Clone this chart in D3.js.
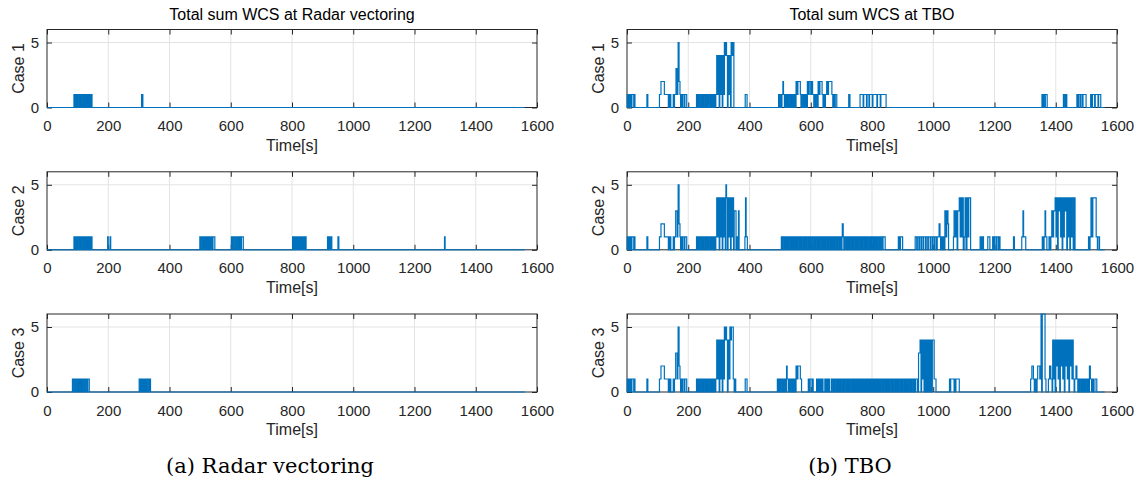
<!DOCTYPE html>
<html>
<head>
<meta charset="utf-8">
<script src="https://cdn.jsdelivr.net/npm/d3@7"></script>
<style>
  body { margin: 0; background: #fff; }
  svg { display: block; }
  text { fill: #262626; }
</style>
</head>
<body>
<svg id="chart" width="1138" height="485"></svg>
<script>
// ---- labels / ticks ----
const xTickValues = [0, 200, 400, 600, 800, 1000, 1200, 1400, 1600];
const yTickValues = [0, 5];
const columnTitles = ['Total sum WCS at Radar vectoring', 'Total sum WCS at TBO'];
const columnCaptions = ['(a) Radar vectoring', '(b) TBO'];
const caseLabels = ['Case 1', 'Case 2', 'Case 3'];
const xLabel = 'Time[s]';

// ---- series: step change points [time (s), total WCS] ----
const radarCase1 = [[0,0],[88,1],[90,0],[91,1],[95,0],[96,1],[99,0],[100,1],[104,0],[106,1],[108,0],[109,1],[112,0],[113,1],[117,0],[119,1],[121,0],[122,1],[126,0],[127,1],[130,0],[131,1],[135,0],[136,1],[139,0],[140,1],[143,0],[144,1],[147,0],[309,1],[313,0],[1560,0]];

const radarCase2 = [[0,0],[88,1],[90,0],[91,1],[95,0],[96,1],[99,0],[100,1],[104,0],[105,1],[108,0],[109,1],[112,0],[113,1],[117,0],[118,1],[121,0],[122,1],[126,0],[127,1],[130,0],[131,1],[135,0],[136,1],[139,0],[141,1],[143,0],[145,1],[147,0],
  [198,1],[200,0],[206,1],[208,0],
  [499,1],[503,0],[507,1],[510,0],[512,1],[516,0],[517,1],[521,0],[522,1],[526,0],[527,1],[531,0],[532,1],[536,0],[537,1],[541,0],[542,1],[548,0],
  [602,1],[606,0],[610,1],[614,0],[615,1],[619,0],[620,1],[624,0],[625,1],[629,0],[630,1],[634,0],[635,1],[641,0],
  [802,1],[804,0],[808,1],[810,0],[812,1],[816,0],[817,1],[821,0],[822,1],[826,0],[827,1],[831,0],[832,1],[836,0],[837,1],[841,0],[842,1],[846,0],
  [916,1],[920,0],[922,1],[926,0],[927,1],[930,0],[950,1],[953,0],[1298,1],[1300,0],[1560,0]];

const radarCase3 = [[0,0],[83,1],[87,0],[88,1],[92,0],[93,1],[97,0],[98,1],[100,0],[102,1],[106,0],[107,1],[111,0],[112,1],[116,0],[118,1],[122,0],[123,1],[127,0],[128,1],[132,0],[133,1],[138,0],
  [301,1],[305,0],[306,1],[309,0],[311,1],[315,0],[316,1],[320,0],[321,1],[324,0],[326,1],[330,0],[334,1],[338,0],[1560,0]];

const tboCase1 = [[0,0],[1,1],[3,0],[5,1],[9,0],[11,1],[14,0],[16,1],[22,0],[24,1],[26,0],
  [65,1],[68,0],
  [106,1],[111,2],[122,1],[135,0],[137,1],[139,0],[141,1],[143,0],[151,1],[153,0],[155,1],[160,3],[164,1],[166,3],[167,5],[170,2],[173,1],[175,0],[177,1],[180,0],[182,1],[187,0],[189,1],[195,0],
  [227,1],[229,0],[232,1],[236,0],[238,1],[242,0],[244,1],[248,0],[250,1],[254,0],[256,1],[260,0],[262,1],[266,0],[268,1],[272,0],[274,1],[278,0],[280,1],[283,0],[285,1],[288,0],[290,1],
  [293,4],[296,1],[298,4],[301,0],[303,4],[306,1],[308,4],[311,0],[313,4],[316,1],[318,5],[321,4],[323,5],[325,4],[328,0],[330,4],[333,1],[335,4],[338,0],[340,5],[343,4],[345,5],[349,0],
  [386,1],[392,0],
  [495,1],[498,0],[500,1],[504,0],[506,1],[509,2],[511,1],[514,0],[516,1],[520,0],[522,1],[526,0],[528,1],[532,0],[534,1],[538,0],[540,1],[544,0],[546,1],[550,0],[552,2],[556,1],[558,2],[566,1],[568,0],[570,1],[574,0],[576,1],[580,0],[582,1],[586,0],[589,2],[593,1],[595,2],[600,1],[602,2],[606,1],[610,0],[612,1],[616,0],[618,1],[622,0],[624,2],[628,1],[630,2],[637,1],[640,0],[642,1],[646,0],[648,1],[652,2],[656,1],[658,2],[669,1],[672,0],[674,1],[678,0],[680,1],[685,0],
  [724,1],[728,0],
  [761,1],[771,0],[773,1],[782,0],[784,1],[790,0],[792,1],[801,0],[803,1],[816,0],[818,1],[827,0],[829,1],[846,0],
  [1355,1],[1358,0],[1360,1],[1364,0],[1366,1],[1372,0],
  [1425,1],[1428,0],[1432,1],[1436,0],
  [1469,1],[1473,0],[1475,1],[1480,0],[1482,1],[1487,0],[1489,1],[1499,0],
  [1514,1],[1518,0],[1520,1],[1527,0],[1529,1],[1538,0],[1540,1],[1547,0],
  [1560,0]];

const tboCase2 = [[0,0],[1,1],[3,0],[5,1],[9,0],[11,1],[14,0],[16,1],[22,0],[24,1],[26,0],
  [65,1],[68,0],
  [106,1],[111,2],[122,1],[135,0],[137,1],[139,0],[141,1],[143,0],[151,1],[153,0],[155,1],[159,3],[164,1],[166,3],[167,5],[170,2],[173,1],[175,0],[177,1],[180,0],[182,1],[187,0],[189,1],[195,0],
  [227,1],[229,0],[232,1],[236,0],[238,1],[242,0],[244,1],[248,0],[250,1],[254,0],[256,1],[260,0],[262,1],[266,0],[268,1],[272,0],[274,1],[278,0],[280,1],[283,0],[285,1],[288,0],[290,1],
  [293,4],[296,1],[298,4],[301,0],[303,4],[306,1],[308,4],[311,0],[313,4],[316,1],[318,4],[321,0],[323,5],[325,4],[328,0],[330,4],[333,1],[335,4],[338,0],[340,4],[343,1],[345,4],[348,0],[350,3],[356,0],[358,1],[360,0],[364,3],[366,0],
  [385,1],[387,4],[389,1],[393,0],
  [504,1],[508,0],[510,1],[514,0],[516,1],[520,0],[522,1],[526,0],[528,1],[532,0],[534,1],[538,0],[540,1],[544,0],[546,1],[550,0],[552,1],[556,0],[558,1],[562,0],[564,1],[568,0],[570,1],[574,0],[576,1],[580,0],[582,1],[586,0],[588,1],[592,0],[594,1],[598,0],[600,1],[604,0],[606,1],[610,0],[612,1],[616,0],[618,1],[622,0],[624,1],[628,0],[630,1],[634,0],[636,1],[640,0],[642,1],[646,0],[648,1],[652,0],[654,1],[658,0],[660,1],[664,0],[666,1],[670,0],[672,1],[676,0],[678,1],[682,0],[684,1],[688,0],[690,1],[694,0],[696,1],[700,0],[702,1],[703,2],[706,1],[708,0],[710,1],[714,0],[716,1],[720,0],[722,1],[726,0],[728,1],[732,0],[734,1],[738,0],[740,1],[744,0],[746,1],[750,0],[752,1],[756,0],[758,1],[762,0],[764,1],[768,0],[770,1],[774,0],[776,1],[780,0],[782,1],[786,0],[788,1],[792,0],[794,1],[798,0],[800,1],[804,0],[806,1],[810,0],[812,1],[816,0],[818,1],[822,0],[824,1],[828,0],[830,1],[834,0],[836,1],[843,0],
  [886,1],[890,0],[893,1],[900,0],
  [941,1],[946,0],[948,1],[953,0],[955,1],[960,0],[962,1],[967,0],[969,1],[975,0],[977,1],[982,0],[984,1],[990,0],[992,1],[997,0],[999,1],[1004,0],[1006,1],[1011,0],[1013,1],[1019,2],[1022,1],[1024,0],[1026,1],[1030,0],[1032,1],[1036,0],[1038,3],[1042,1],[1044,2],[1046,3],[1048,2],[1050,0],
  [1066,1],[1068,3],[1072,1],[1074,3],[1078,0],[1080,3],[1085,4],[1088,1],[1090,4],[1094,1],[1096,4],[1098,0],[1101,1],[1104,4],[1107,0],[1110,4],[1114,1],[1116,4],[1122,0],
  [1153,1],[1157,0],[1160,1],[1164,0],[1178,1],[1185,0],
  [1194,1],[1198,0],[1200,1],[1205,0],[1207,1],[1212,0],[1214,1],[1218,0],
  [1262,1],[1265,0],
  [1289,1],[1293,3],[1295,1],[1302,0],
  [1356,1],[1360,0],[1362,1],[1365,3],[1367,1],[1371,0],
  [1378,1],[1382,0],[1384,1],[1387,3],[1391,1],[1393,3],[1398,4],[1401,1],[1403,4],[1406,0],[1408,4],[1411,3],[1413,4],[1416,1],[1418,4],[1421,0],[1423,4],[1426,1],[1428,4],[1431,3],[1433,4],[1436,0],[1438,4],[1441,1],[1443,4],[1446,0],[1448,4],[1451,1],[1453,4],[1457,0],[1459,4],[1463,0],
  [1507,1],[1510,0],[1512,1],[1515,4],[1519,1],[1521,4],[1532,1],[1536,0],[1538,1],[1543,0],
  [1560,0]];

const tboCase3 = [[0,0],[1,1],[3,0],[5,1],[9,0],[11,1],[14,0],[16,1],[22,0],[24,1],[26,0],
  [65,1],[68,0],
  [106,1],[111,2],[122,1],[135,0],[137,1],[139,0],[141,1],[143,0],[151,1],[153,0],[155,1],[159,3],[164,1],[166,3],[167,5],[170,2],[173,1],[175,0],[177,1],[180,0],[182,1],[187,0],[189,1],[195,0],
  [227,1],[229,0],[232,1],[236,0],[238,1],[242,0],[244,1],[248,0],[250,1],[254,0],[256,1],[260,0],[262,1],[266,0],[268,1],[272,0],[274,1],[278,0],[280,1],[283,0],[285,1],[288,0],[290,1],
  [293,4],[296,1],[298,4],[301,0],[303,4],[306,1],[308,4],[311,0],[313,4],[316,1],[318,5],[321,4],[323,5],[325,4],[328,0],[330,4],[333,1],[336,5],[339,4],[341,5],[347,1],[350,0],[352,1],[355,0],
  [386,1],[392,0],
  [491,1],[495,0],[497,1],[501,0],[503,1],[507,0],[509,1],[513,0],[515,1],[519,0],[521,2],[523,1],[527,0],[529,1],[533,0],[535,1],[539,0],[541,1],[545,0],[547,1],[550,0],[552,2],[556,1],[558,2],[566,1],[570,0],
  [592,1],[596,0],[598,1],[604,0],[606,1],[608,0],[619,1],[623,0],[625,1],[629,0],[631,1],[635,0],[637,1],[640,0],[646,1],[650,0],[652,1],[656,0],[658,1],[662,0],[668,1],[672,0],[674,1],[678,0],[680,1],[684,0],[686,1],[690,0],[692,1],[696,0],[698,1],[702,0],[704,1],[708,0],[710,1],[714,0],[716,1],[720,0],[722,1],[726,0],[728,1],[732,0],[734,1],[738,0],
  [740,1],[743,0],[744,1],[747,0],[748,1],[751,0],[752,1],[755,0],[756,1],[759,0],[760,1],[763,0],[764,1],[767,0],[768,1],[771,0],[772,1],[775,0],[776,1],[779,0],[780,1],[783,0],[784,1],[787,0],[788,1],[791,0],[792,1],[795,0],[796,1],[799,0],[800,1],[803,0],[804,1],[807,0],[808,1],[811,0],[812,1],[815,0],
  [816,1],[820,0],[822,1],[826,0],[828,1],[832,0],[834,1],[838,0],[840,1],[844,0],[846,1],[850,0],[852,1],[856,0],[858,1],[862,0],[864,1],[868,0],[870,1],[874,0],[876,1],[880,0],[882,1],[886,0],[888,1],[892,0],[894,1],[898,0],[900,1],[904,0],[906,1],[910,0],[912,1],[916,0],[918,1],[922,0],[924,1],[928,0],[930,1],[934,0],[936,1],[940,0],[942,1],[948,0],
  [952,3],[957,4],[960,0],[962,4],[965,1],[967,4],[970,0],[972,4],[975,0],[977,4],[980,0],[982,4],[985,0],[987,4],[990,0],[992,4],[995,0],[997,4],[1003,1],[1009,0],
  [1053,1],[1055,0],[1057,1],[1068,0],[1070,1],[1072,0],[1074,1],[1085,0],
  [1318,1],[1322,2],[1327,1],[1330,0],[1333,1],[1337,0],[1339,1],[1341,2],[1348,1],[1352,6],[1354,0],[1356,6],[1365,1],[1368,0],
  [1376,1],[1380,2],[1384,1],[1388,0],[1390,4],[1393,1],[1395,4],[1398,0],[1400,4],[1403,2],[1405,4],[1408,1],[1410,4],[1413,0],[1415,4],[1418,2],[1420,4],[1423,1],[1425,4],[1428,0],[1430,4],[1433,2],[1435,4],[1438,1],[1440,4],[1443,0],[1445,4],[1448,2],[1450,4],[1453,1],[1455,4],[1457,1],
  [1460,0],[1462,1],[1466,2],[1469,1],[1472,0],[1474,1],[1478,0],[1480,1],[1484,0],[1486,1],[1490,0],[1492,1],[1496,0],[1498,1],[1502,0],[1504,1],[1508,0],[1510,2],[1513,1],[1517,0],[1519,1],[1523,0],[1528,1],[1534,0],
  [1560,0]];

const columns = [
  [radarCase1, radarCase2, radarCase3],
  [tboCase1, tboCase2, tboCase3]
];

// ---- layout ----
const colLeft = [47, 627];
const rowTop = [29.5, 171.8, 314];
const plotW = 490;
const plotH = 78;
const axisColor = '#262626';
const gridColor = '#e3e3e3';
const lineColor = '#0072bd';
const sans = '"Liberation Sans", Arial, Helvetica, sans-serif';

const svg = d3.select('#chart');

const x = d3.scaleLinear().domain([0, 1600]).range([0, plotW]);
const y = d3.scaleLinear().domain([0, 6]).range([plotH, 0]);
const fmt = d3.format('d');

const line = d3.line()
    .x((d) => x(d[0]))
    .y((d) => y(d[1]))
    .curve(d3.curveStepAfter);

columns.forEach((col, c) => {
    col.forEach((data, r) => {
        const g = svg.append('g')
            .attr('transform', `translate(${colLeft[c]},${rowTop[r]})`);

        // grid
        g.append('g').selectAll('line')
            .data(xTickValues.slice(1, -1))
            .join('line')
            .attr('x1', (d) => x(d)).attr('x2', (d) => x(d))
            .attr('y1', 0).attr('y2', plotH)
            .attr('stroke', gridColor);
        g.append('g').selectAll('line')
            .data(yTickValues.filter((d) => d > 0))
            .join('line')
            .attr('x1', 0).attr('x2', plotW)
            .attr('y1', (d) => y(d)).attr('y2', (d) => y(d))
            .attr('stroke', gridColor);

        // axes, ticks pointing inside
        const bottom = g.append('g')
            .attr('transform', `translate(0,${plotH})`)
            .call(d3.axisBottom(x).tickValues(xTickValues).tickFormat(fmt)
                .tickSize(-5).tickSizeOuter(0).tickPadding(13));
        const left = g.append('g')
            .call(d3.axisLeft(y).tickValues(yTickValues).tickFormat(fmt)
                .tickSize(-5).tickSizeOuter(0).tickPadding(8));
        g.append('g')
            .call(d3.axisTop(x).tickValues(xTickValues).tickSize(-5).tickSizeOuter(0).tickFormat(''));
        g.append('g')
            .attr('transform', `translate(${plotW},0)`)
            .call(d3.axisRight(y).tickValues(yTickValues).tickSize(-5).tickSizeOuter(0).tickFormat(''));

        g.selectAll('.domain').remove();
        g.selectAll('.tick line').attr('stroke', axisColor);
        [bottom, left].forEach((a) => a.selectAll('text')
            .style('font-family', sans)
            .style('font-size', '15px')
            .attr('fill', axisColor));

        g.append('rect')
            .attr('width', plotW).attr('height', plotH)
            .attr('fill', 'none')
            .attr('stroke', axisColor);

        // data
        const clipId = `clip-${c}-${r}`;
        g.append('clipPath').attr('id', clipId)
            .append('rect').attr('x', -1).attr('y', -1).attr('width', plotW + 2).attr('height', plotH + 2);
        g.append('path')
            .datum(data)
            .attr('clip-path', `url(#${clipId})`)
            .attr('d', line)
            .attr('fill', 'none')
            .attr('stroke', lineColor)
            .attr('stroke-width', 1.2);

        // labels
        g.append('text')
            .attr('x', plotW / 2).attr('y', plotH + 43)
            .attr('text-anchor', 'middle')
            .style('font-family', sans).style('font-size', '16px')
            .text(xLabel);
        g.append('text')
            .attr('transform', `translate(-23,${plotH / 2}) rotate(-90)`)
            .attr('text-anchor', 'middle')
            .style('font-family', sans).style('font-size', '16px')
            .text(caseLabels[r]);
        if (r === 0) {
            g.append('text')
                .attr('x', plotW / 2).attr('y', -10)
                .attr('text-anchor', 'middle')
                .style('font-family', sans).style('font-size', '16px')
                .style('fill', '#000')
                .text(columnTitles[c]);
        }
    });

    svg.append('text')
        .attr('x', c === 0 ? 270 : 850).attr('y', 473)
        .attr('text-anchor', 'middle')
        .style('font-family', '"DejaVu Serif", serif')
        .style('font-size', '21px')
        .style('fill', '#000')
        .text(columnCaptions[c]);
});
</script>
</body>
</html>
